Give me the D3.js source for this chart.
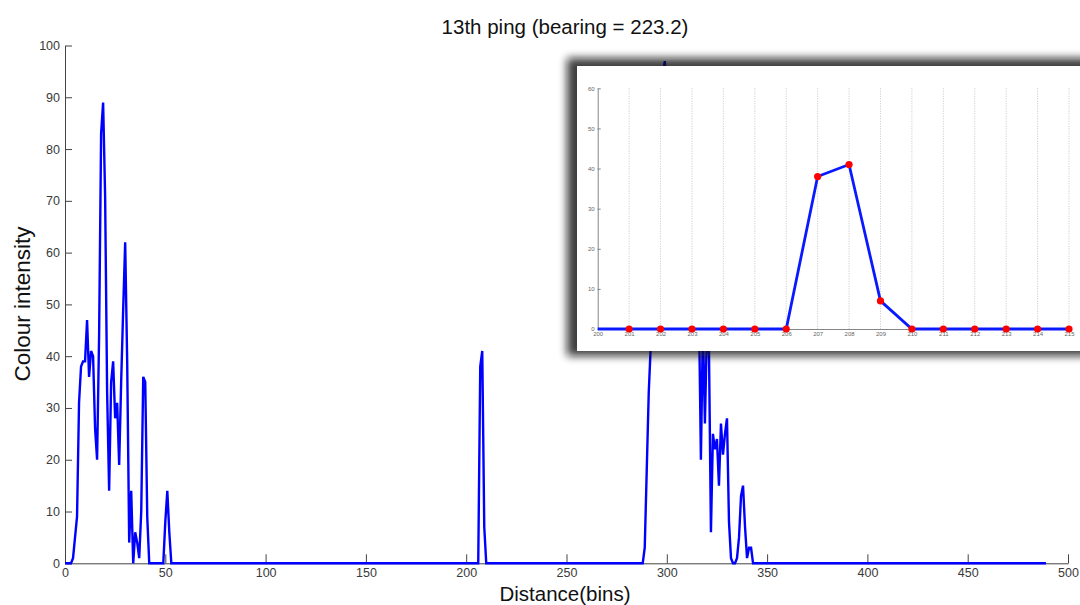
<!DOCTYPE html>
<html>
<head>
<meta charset="utf-8">
<script src="https://cdn.jsdelivr.net/npm/d3@7"></script>
<style>
  body{margin:0;background:#fff;}
  svg{display:block;font-family:"Liberation Sans",Arial,sans-serif;}
</style>
</head>
<body>
<svg id="chart"></svg>
<script>
// ---- data ----
const title_text = "13th ping (bearing = 223.2)";
const x_label = "Distance(bins)";
const y_label = "Colour intensity";
const bin_count = 490;                       // line runs 0..489
const x_ticks = [0,50,100,150,200,250,300,350,400,450,500];
const y_ticks = [0,10,20,30,40,50,60,70,80,90,100];

// non-zero stretches of the ping, value per bin
const near_start = 4;
const near_values = [1,5,9,31,38,39,39,47,36,41,40,26,20,44,83,89,71,33,14,35,39,28,31,19,35,49,62,39,4,14,0,6,4,1,10,36,35,9];
const small_start = 50;
const small_values = [8,14,6];
const mid_start = 207;
const mid_values = [38,41,7];
const far_start = 289;
const far_values = [3,18,33,42,55,66,75,83,89,94,97,90,80,70,63,58,55,60,66,62,56,52,57,63,58,52,55,50,20,46,27,45,42,6,25,22,24,15,27,21,25,28,8,1,0,0,1,5,13,15,7,1,3,3];

// zoomed inset (bins 200..215)
const zoom_bins = [200,201,202,203,204,205,206,207,208,209,210,211,212,213,214,215];
const zoom_values = [0,0,0,0,0,0,0,38,41,7,0,0,0,0,0,0];
const zoom_y_ticks = [0,10,20,30,40,50,60];

class draw_ping{
    constructor(config){
        this.config = config;
        this.init();
    }
    init(){
        let self = this;
        self.svg = d3.select(self.config.parent)
            .attr("width",self.config.width)
            .attr("height",self.config.height)
        self.xscale = d3.scaleLinear().domain([0,500]).range([65,1068])
        self.yscale = d3.scaleLinear().domain([0,100]).range([563.3,45.5])

        let series = [];
        for(let i=0;i<bin_count;i++) series.push({bin:i,v:0});
        [[near_start,near_values],[small_start,small_values],[mid_start,mid_values],[far_start,far_values]]
            .forEach(([s,vals])=>vals.forEach((v,i)=>{ series[s+i].v = v; }))
        self.series = series;
    }
    render(){
        let self = this;
        const svg = self.svg;

        svg.append("text")
            .attr("x",565).attr("y",34)
            .attr("text-anchor","middle")
            .style("font-size","20.5px")
            .attr("fill","#111")
            .text(title_text)

        // axes, ticks inward like matlab
        const xaxis = svg.append("g").attr("transform",`translate(0,${self.yscale(0)})`)
            .call(d3.axisBottom(self.xscale).tickValues(x_ticks).tickSize(-9).tickPadding(5).tickSizeOuter(0))
        const yaxis = svg.append("g").attr("transform",`translate(${self.xscale(0)},0)`)
            .call(d3.axisLeft(self.yscale).tickValues(y_ticks).tickSize(-7).tickPadding(5).tickSizeOuter(0))
        ;[xaxis,yaxis].forEach(a=>{
            a.select(".domain").attr("stroke","#444")
            a.selectAll(".tick line").attr("stroke","#444")
            a.selectAll(".tick text").attr("fill","#3a3a3a").style("font-size","12.5px").style("font-family","Liberation Sans, Arial, sans-serif")
        })
        yaxis.selectAll(".tick text").attr("x",-5)

        svg.append("text")
            .attr("x",565).attr("y",601)
            .attr("text-anchor","middle")
            .style("font-size","20.5px")
            .attr("fill","#111")
            .text(x_label)
        svg.append("text")
            .attr("transform","translate(30,304) rotate(-90)")
            .attr("text-anchor","middle")
            .style("font-size","22.5px")
            .attr("fill","#111")
            .text(y_label)

        const line = d3.line().x(d=>self.xscale(d.bin)).y(d=>self.yscale(d.v))
        svg.append("path")
            .datum(self.series)
            .attr("d",line)
            .attr("fill","none")
            .attr("stroke","#0000ff")
            .attr("stroke-width",2.4)

        self.render_inset()
    }
    render_inset(){
        let self = this;
        const svg = self.svg;
        const defs = svg.append("defs")
        defs.append("filter").attr("id","shadow")
            .attr("x","-10%").attr("y","-10%").attr("width","120%").attr("height","120%")
            .append("feGaussianBlur").attr("stdDeviation",4.5)

        const inset = svg.append("g")
        inset.append("rect")
            .attr("x",567).attr("y",58).attr("width",540).attr("height",298)
            .attr("fill","#111").attr("opacity",0.8)
            .attr("filter","url(#shadow)")
        inset.append("rect")
            .attr("x",577).attr("y",66).attr("width",520).attr("height",285)
            .attr("fill","#fff")

        const ix = d3.scaleLinear().domain([200,215]).range([597.7,1069])
        const iy = d3.scaleLinear().domain([0,60]).range([329,88.3])

        inset.append("g").selectAll("line")
            .data(zoom_bins.slice(1))
            .join("line")
            .attr("x1",d=>ix(d)).attr("x2",d=>ix(d))
            .attr("y1",iy(60)).attr("y2",iy(0))
            .attr("stroke","#b8b8b8").attr("stroke-width",0.8)
            .attr("stroke-dasharray","1,1.5")

        const ixa = inset.append("g").attr("transform",`translate(0,${iy(0)})`)
            .call(d3.axisBottom(ix).tickValues(zoom_bins).tickSize(0).tickPadding(3).tickSizeOuter(0))
        const iya = inset.append("g").attr("transform",`translate(${ix(200)},0)`)
            .call(d3.axisLeft(iy).tickValues(zoom_y_ticks).tickSize(-3).tickPadding(3).tickSizeOuter(0))
        ;[ixa,iya].forEach(a=>{
            a.select(".domain").attr("stroke","#666").attr("stroke-width",0.8)
            a.selectAll(".tick line").attr("stroke","#666").attr("stroke-width",0.8)
            a.selectAll(".tick text").attr("fill","#666").style("font-size","6px").style("font-family","Liberation Sans, Arial, sans-serif")
        })

        const pts = zoom_bins.map((b,i)=>({bin:b,v:zoom_values[i]}))
        inset.append("path")
            .datum(pts)
            .attr("d",d3.line().x(d=>ix(d.bin)).y(d=>iy(d.v)))
            .attr("fill","none")
            .attr("stroke","#0a1aff")
            .attr("stroke-width",2.8)
        inset.append("g").selectAll("circle")
            .data(pts.filter(d=>d.bin>200))
            .join("circle")
            .attr("cx",d=>ix(d.bin)).attr("cy",d=>iy(d.v))
            .attr("r",3.6)
            .attr("fill","#ff0000")
    }
}

const chart = new draw_ping({parent:"#chart",width:1080,height:605});
chart.render();
</script>
</body>
</html>
